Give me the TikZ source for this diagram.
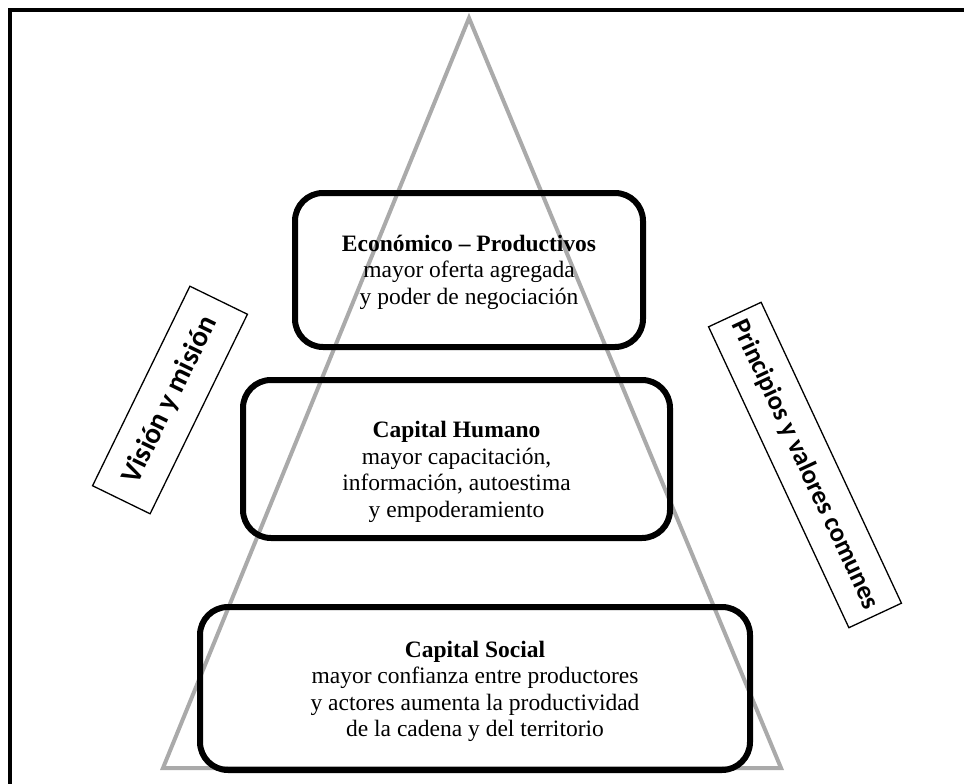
\documentclass[tikz,border=0pt]{standalone}
\usepackage{fontspec}
\setmainfont{Liberation Serif}
\newfontfamily\labelfont{Carlito}
\usepackage{tikz}
\usetikzlibrary{positioning}
\usepackage{xcolor}
\definecolor{trigray}{RGB}{170,170,170}
\tikzstyle{capbox} = [draw=black, line width=6pt, rounded corners=28pt]
\tikzstyle{captext} = [align=center, font=\fontsize{23.5}{26.5}\selectfont]
\tikzstyle{tagbox} = [draw=black, line width=1.3pt, font=\labelfont\bfseries\fontsize{29}{31}\selectfont]
\tikzstyle{tri} = [draw=trigray, line width=4pt]

\begin{document}
\begin{tikzpicture}[x=1pt, y=-1pt]
\useasboundingbox (0,0) rectangle (964,784);
\clip (0,0) rectangle (964,784);
% outer frame
\draw[line width=4.5pt] (10,10) rectangle (1000,820);

% pyramid
\coordinate (apex) at (469,18);
\coordinate (baseL) at (163,768);
\coordinate (baseR) at (781,768);
\draw[tri] (apex) -- (baseL) -- (baseR) -- cycle;

% levels of the pyramid
\node[capbox, minimum width=348, minimum height=154] (econ) at (469,270) {};
\node[captext] (econtxt) at ([yshift=-2pt]econ.center)
  {\textbf{Económico -- Productivos}\\mayor oferta agregada\\y poder de negociación};
\node[capbox, minimum width=427, minimum height=158] (human) at (456.5,459) {};
\node[captext] (humantxt) at ([yshift=-13pt]human.center)
  {\textbf{Capital Humano}\\mayor capacitación,\\información, autoestima\\y empoderamiento};
\node[capbox, minimum width=550, minimum height=163] (social) at (475,688.5) {};
\node[captext] (socialtxt) at ([yshift=-3pt]social.center)
  {\textbf{Capital Social}\\mayor confianza entre productores\\y actores aumenta la productividad\\de la cadena y del territorio};

% side labels
\node[tagbox, rotate=64, minimum width=222, minimum height=64] (vision) at (170,400) {Visión y misión};
\node[tagbox, rotate=-65, minimum width=332, minimum height=58, font=\labelfont\bfseries\fontsize{26.5}{28}\selectfont] (values) at (805,465) {Principios y valores comunes};
\end{tikzpicture}
\end{document}
